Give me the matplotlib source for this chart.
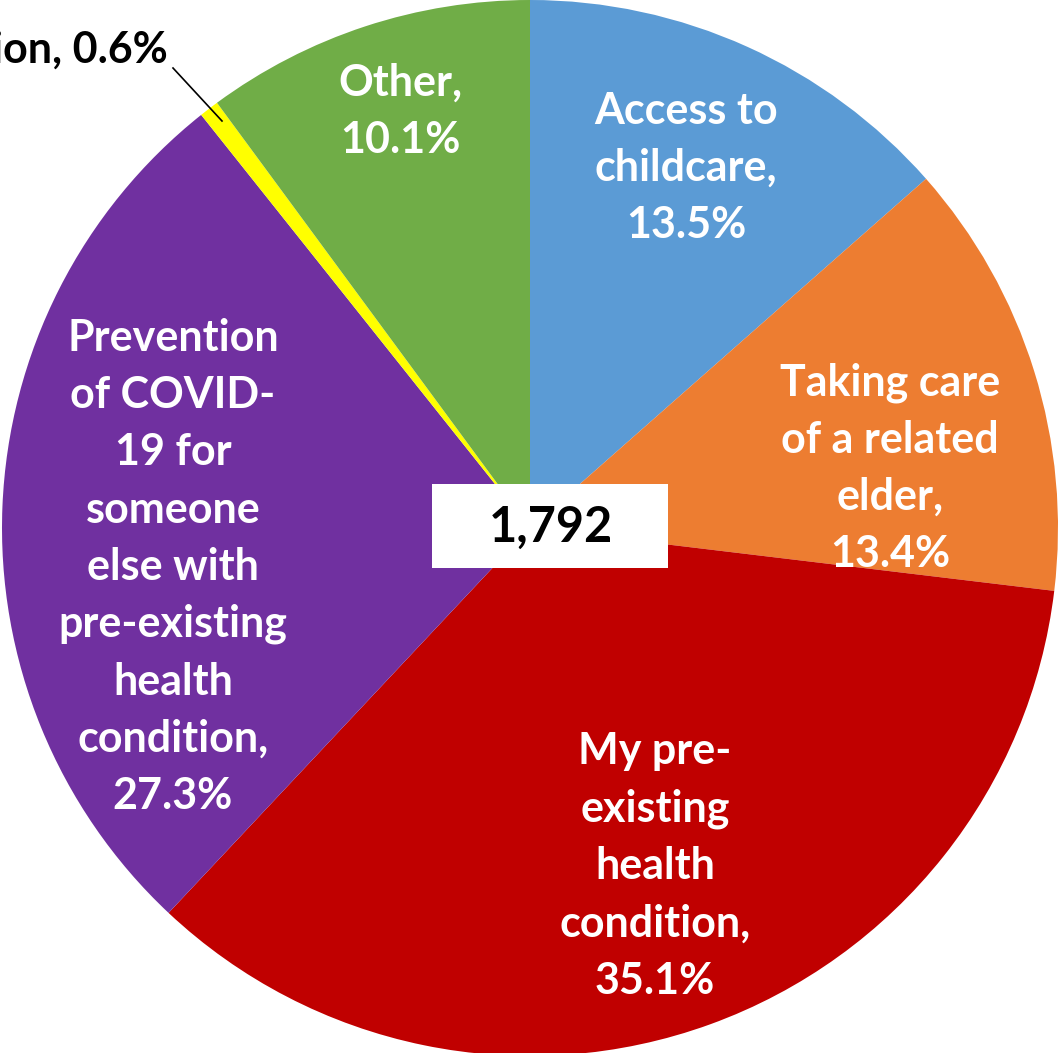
import matplotlib.pyplot as plt

W, H = 1058, 1053

labels = ["Access to\nchildcare,\n13.5%",
          "Taking care\nof a related\nelder,\n13.4%",
          "My pre-\nexisting\nhealth\ncondition,\n35.1%",
          "Prevention\nof COVID-\n19 for\nsomeone\nelse with\npre-existing\nhealth\ncondition,\n27.3%",
          "Religion, 0.6%",
          "Other,\n10.1%"]
shares = [13.5, 13.4, 35.1, 27.3, 0.6, 10.1]
colors = ["#5B9BD5", "#ED7D31", "#C00000", "#7030A0", "#FFFF00", "#70AD47"]
total = "1,792"

# label centres in pixels (x, y from top)
label_pos = [(686, 168), (890, 468), (655, 866), (173, 567), (168, 50), (400, 111)]
label_col = ["white", "white", "white", "white", "black", "white"]

fig = plt.figure(figsize=(W / 100, H / 100), dpi=100)
ax = fig.add_axes([0, 0, 1, 1])

cx, cy, r = 530, H - 528, 528
ax.pie(shares, colors=colors, startangle=90, counterclock=False,
       center=(cx, cy), radius=r, wedgeprops=dict(linewidth=0))
ax.set_xlim(0, W)
ax.set_ylim(0, H)
ax.axis("off")

for txt, (x, y), c in zip(labels, label_pos, label_col):
    ha = "right" if c == "black" else "center"
    ax.text(x, H - y, txt, color=c, ha=ha, va="center", fontsize=31,
            fontweight="bold", family="Lato", linespacing=1.52)

# leader line for the small slice
ax.plot([173, 222], [H - 68, H - 121], color="black", lw=1.2)

ax.add_patch(plt.Rectangle((432, H - 568), 236, 84, facecolor="white", edgecolor="none"))
ax.text(551, H - 527, total, ha="center", va="center", fontsize=35,
        fontweight="bold", family="Lato")

fig.savefig("out.png", dpi=100)
